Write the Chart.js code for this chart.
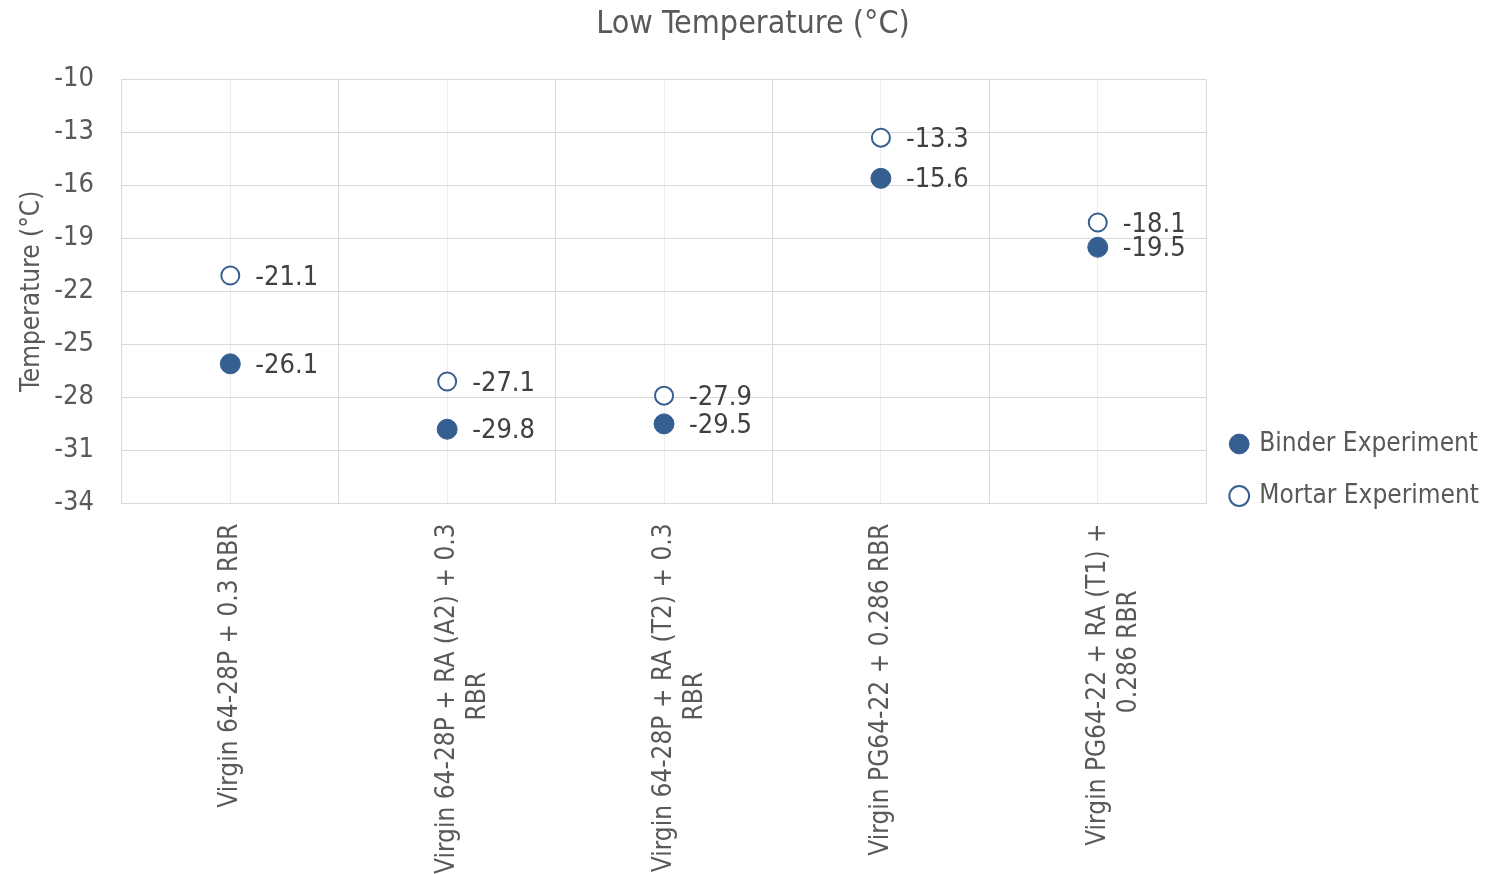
<!DOCTYPE html>
<html>
<head>
<meta charset="utf-8">
<script src="https://cdn.jsdelivr.net/npm/chart.js@4.4.1/dist/chart.umd.min.js"></script>
<style>
  html, body { margin: 0; padding: 0; background: #fff; }
  #wrap { width: 1492px; height: 874px; }
</style>
</head>
<body>
<div id="wrap"><canvas id="chart" width="1492" height="874"></canvas></div>
<script>
// espacios al final para centrar la segunda linea bajo la primera (etiquetas giradas)
const pad = n => '\u00a0'.repeat(n);
const categories = [
    ['Virgin 64-28P + 0.3 RBR'],
    ['Virgin 64-28P + RA (A2) + 0.3', 'RBR' + pad(20)],
    ['Virgin 64-28P + RA (T2) + 0.3', 'RBR' + pad(20)],
    ['Virgin PG64-22 + 0.286 RBR'],
    ['Virgin PG64-22 + RA (T1) +', '0.286 RBR' + pad(9)]
];
const binderValues = [-26.1, -29.8, -29.5, -15.6, -19.5];
const mortarValues = [-21.1, -27.1, -27.9, -13.3, -18.1];
const yMin = -34, yMax = -10, yStep = 3;

const FONT = "'Liberation Sans Narrow', 'DejaVu Sans Condensed', 'Liberation Sans', sans-serif";
const textColor = '#595959';
const gridColor = '#d9d9d9';
const blue = '#365f91';

// etiquetas de valor a la derecha de cada punto
const valueLabels = {
    id: 'valueLabels',
    afterDatasetsDraw(chart) {
        const ctx = chart.ctx;
        ctx.save();
        ctx.font = '27px ' + FONT;
        ctx.fillStyle = '#404040';
        ctx.textBaseline = 'middle';
        ctx.textAlign = 'left';
        chart.data.datasets.forEach((ds, i) => {
            chart.getDatasetMeta(i).data.forEach((pt, j) => {
                ctx.fillText(ds.data[j].toFixed(1), pt.x + 25, pt.y + 2);
            });
        });
        ctx.restore();
    }
};

Chart.defaults.font.family = FONT;
Chart.defaults.color = textColor;

new Chart(document.getElementById('chart').getContext('2d'), {
    type: 'line',
    data: {
        labels: categories,
        datasets: [{
            label: 'Binder Experiment',
            data: binderValues,
            showLine: false,
            pointStyle: 'circle',
            pointRadius: 10,
            pointBackgroundColor: blue,
            pointBorderColor: blue,
            pointBorderWidth: 1,
            backgroundColor: blue,
            borderColor: blue
        }, {
            label: 'Mortar Experiment',
            data: mortarValues,
            showLine: false,
            pointStyle: 'circle',
            pointRadius: 9,
            pointBackgroundColor: '#ffffff',
            pointBorderColor: blue,
            pointBorderWidth: 2,
            backgroundColor: '#ffffff',
            borderColor: blue
        }]
    },
    options: {
        responsive: false,
        animation: false,
        layout: { padding: { left: 17, right: 3, bottom: -20 } },
        plugins: {
            title: {
                display: true,
                text: 'Low Temperature (°C)',
                color: textColor,
                font: { size: 32, weight: 'normal' },
                padding: { top: 5, bottom: 36 }
            },
            legend: {
                position: 'right',
                // titulo vacio: solo baja un poco las entradas
                title: {
                    display: true,
                    text: ' ',
                    font: { size: 10 },
                    padding: { top: 17, bottom: 17 }
                },
                labels: {
                    usePointStyle: true,
                    boxWidth: 14,
                    boxHeight: 14,
                    padding: 26,
                    color: textColor,
                    font: { size: 26 }
                }
            },
            tooltip: { enabled: false }
        },
        scales: {
            x: {
                offset: true,
                grid: { offset: true, color: gridColor, drawTicks: false },
                border: { color: gridColor },
                ticks: {
                    minRotation: 90,
                    maxRotation: 90,
                    padding: 20,
                    color: textColor,
                    font: { size: 26 }
                }
            },
            x2: {
                type: 'category',
                offset: true,
                position: 'bottom',
                grid: { offset: false, color: '#ececec', drawTicks: false },
                border: { display: false },
                ticks: { display: false }
            },
            y: {
                min: yMin,
                max: yMax,
                grid: { color: gridColor, drawTicks: false },
                border: { color: gridColor },
                ticks: {
                    stepSize: yStep,
                    padding: 28,
                    color: textColor,
                    font: { size: 27 }
                },
                title: {
                    display: true,
                    text: 'Temperature (°C)',
                    color: textColor,
                    font: { size: 26 },
                    padding: { top: 0, bottom: -22 }
                }
            }
        }
    },
    plugins: [valueLabels]
});
</script>
</body>
</html>
